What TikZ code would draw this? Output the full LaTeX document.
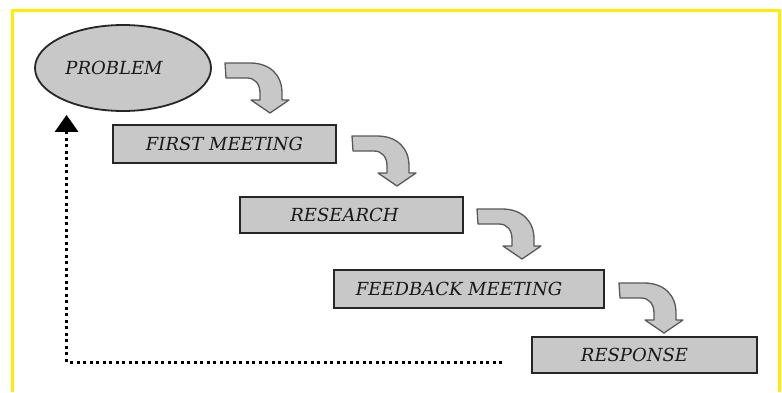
\documentclass[tikz,border=0pt]{standalone}
\usepackage{fontspec}
\setmainfont{DejaVu Serif}
\usetikzlibrary{shapes.geometric,arrows.meta}
\definecolor{boxgray}{RGB}{200,200,200}
\definecolor{frameyellow}{RGB}{255,238,0}
\begin{document}
\begin{tikzpicture}[x=1pt,y=-1pt,
  lbl/.style={font=\fontsize{18}{21}\selectfont\itshape, text=black!90},
  stepbox/.style={rectangle, draw=black!85, line width=1.8pt, fill=boxgray, inner sep=0pt, lbl},
  bendshape/.style={fill=boxgray, draw=black!65, line width=1.3pt, line join=round},
  backline/.style={line width=3pt, dash pattern=on 3pt off 3.5pt},
  pics/bendarrow/.style={code={
    \draw[bendshape] (0,0) -- (25,0) .. controls (45,0) and (57,12) .. (57,30)
      -- (57,37) -- (64,37) -- (45,50) -- (26,37) -- (35,37) -- (35,30)
      .. controls (35,21) and (30,15) .. (22,15) -- (1,15) -- cycle;
  }}
]
\useasboundingbox (0,0) rectangle (782,392);
\fill[white] (0,0) rectangle (782,392);
\draw[frameyellow, line width=3pt] (12,392) -- (12,10) -- (779,10) -- (779,392);

\node[ellipse, draw=black!85, line width=1.8pt, fill=boxgray, minimum width=176pt,
      minimum height=86pt, inner sep=0pt, lbl] (problem) at (123,68) {PROBLEM\hspace*{18pt}};
\node[stepbox, minimum width=223pt, minimum height=38pt] (first) at (224.5,144) {FIRST MEETING};
\node[stepbox, minimum width=223pt, minimum height=36pt] (research) at (351.5,215) {RESEARCH\hspace*{14pt}};
\node[stepbox, minimum width=270pt, minimum height=38pt] (feedback) at (469,289) {FEEDBACK MEETING\hspace*{20pt}};
\node[stepbox, minimum width=225pt, minimum height=36pt] (response) at (644.5,355) {RESPONSE\hspace*{20pt}};

\pic at (225,63) {bendarrow};
\pic at (352,136) {bendarrow};
\pic at (477,209) {bendarrow};
\pic at (619,283) {bendarrow};

\coordinate (backstart) at (502,362);
\draw[backline, -{Triangle[width=23pt,length=17pt]}, shorten >=13pt]
  (backstart) -| (problem.-149.5);
\end{tikzpicture}
\end{document}
